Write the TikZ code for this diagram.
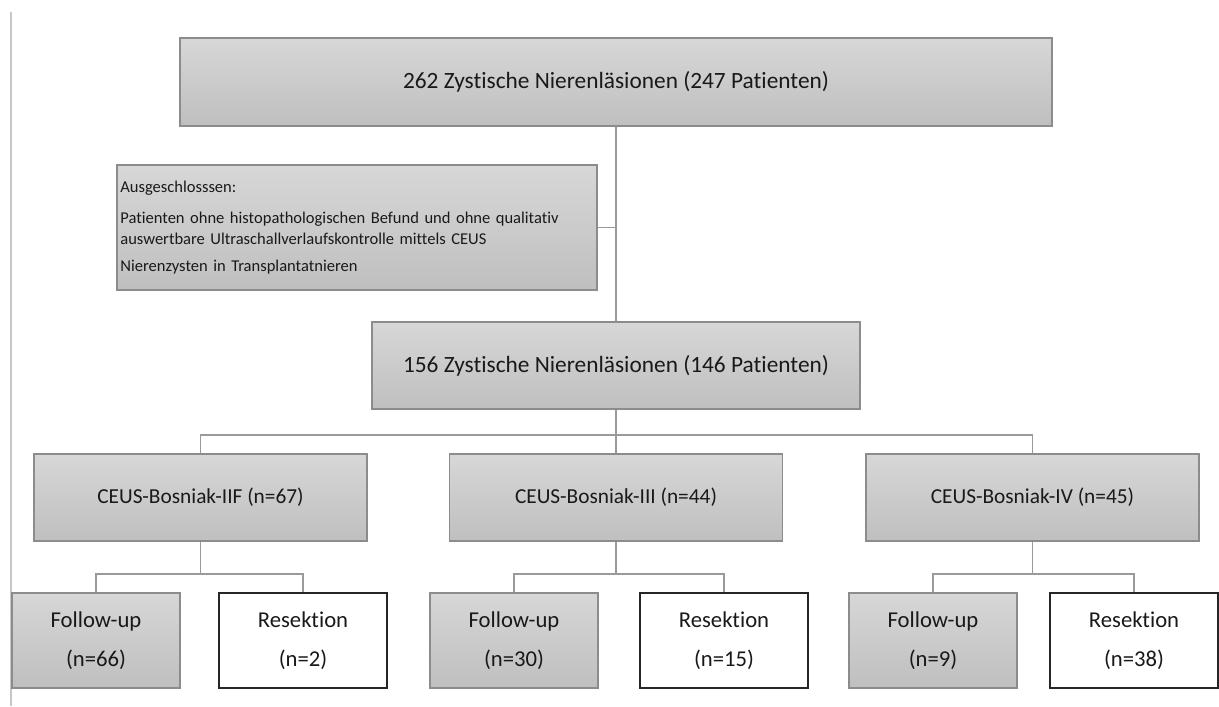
\documentclass[tikz,border=0pt]{standalone}
\usepackage{fontspec}
\setmainfont{Carlito}[Ligatures=NoCommon]
\usepackage{tikz}
\usetikzlibrary{calc}

\definecolor{boxtop}{HTML}{D7D7D7}
\definecolor{boxbot}{HTML}{BFBFBF}
\definecolor{boxline}{HTML}{8C8C8C}
\definecolor{linkgray}{HTML}{9A9A9A}

\tikzset{
  greybox/.style={draw=boxline, line width=0.8pt, top color=boxtop, bottom color=boxbot,
    inner sep=0pt, align=center, text=black!90},
  whitebox/.style={draw=black!85, line width=1.1pt, fill=white, inner sep=0pt,
    align=center, text=black!90},
  headbox/.style={font=\fontsize{17.5}{21}\selectfont},
  classbox/.style={minimum width=249.75pt, minimum height=65.25pt, font=\fontsize{16}{19}\selectfont},
  leafbox/.style={minimum width=126pt, minimum height=71.25pt, font=\fontsize{17}{29.5}\selectfont},
  link/.style={draw=linkgray, line width=1pt},
}

\begin{document}
\begin{tikzpicture}[x=0.75pt,y=-0.75pt]
  \useasboundingbox (0,0) rectangle (1219,706);

  %% Page margin line on the left
  \coordinate (MarginTop) at (11,12);
  \coordinate (MarginBot) at (11,706);
  \draw[draw=black!22, line width=0.8pt] (MarginTop) -- (MarginBot);

  %% Upper part: all lesions, excluded ones, remaining lesions
  \node[greybox, headbox, minimum width=654pt, minimum height=66pt] (Top) at (616,82)
    {262 Zystische Nierenläsionen (247 Patienten)};
  \node[greybox, align=left, inner xsep=2.5pt, text width=355pt, minimum height=93.75pt,
    font=\fontsize{12.4}{15.75}\selectfont] (Excl) at (357,227.5)
    {Ausgeschlosssen:\\[8pt]
     Patienten ohne histopathologischen Befund und ohne qualitativ\\
     auswertbare Ultraschallverlaufskontrolle mittels CEUS\\[4.5pt]
     Nierenzysten in Transplantatnieren};
  \node[greybox, headbox, minimum width=366pt, minimum height=65.25pt] (Mid) at (616,365.5)
    {156 Zystische Nierenläsionen (146 Patienten)};

  \draw[link] (Top.south) -- (Mid.north);
  \draw[link] (Excl.east) -- (Excl.east -| Top.south);

  %% Bosniak classes with follow-up and resection below
  \foreach \n/\cx/\fx/\rx/\txt/\nf/\nr in
    {1/200.5/96/303/{CEUS-Bosniak-IIF (n=67)}/66/2,
     2/616/514/724/{CEUS-Bosniak-III (n=44)}/30/15,
     3/1032.5/933/1134/{CEUS-Bosniak-IV (n=45)}/9/38}
  {
    \node[greybox, classbox] (C\n) at (\cx,497.5) {\txt};
    \node[greybox, leafbox] (F\n) at (\fx,640.5) {Follow-up\\(n=\nf)};
    \node[whitebox, leafbox] (R\n) at (\rx,640.5) {Resektion\\(n=\nr)};
    \coordinate (K\n) at (\cx,574);
    \draw[link] (C\n.south) -- (K\n);
    \draw[link] (F\n.north) |- (K\n) -| (R\n.north);
  }

  %% Fork from the remaining lesions to the classes
  \coordinate (K0) at (616,435);
  \draw[link] (Mid.south) -- (C2.north);
  \draw[link] (C1.north) |- (K0) -| (C3.north);
\end{tikzpicture}
\end{document}
